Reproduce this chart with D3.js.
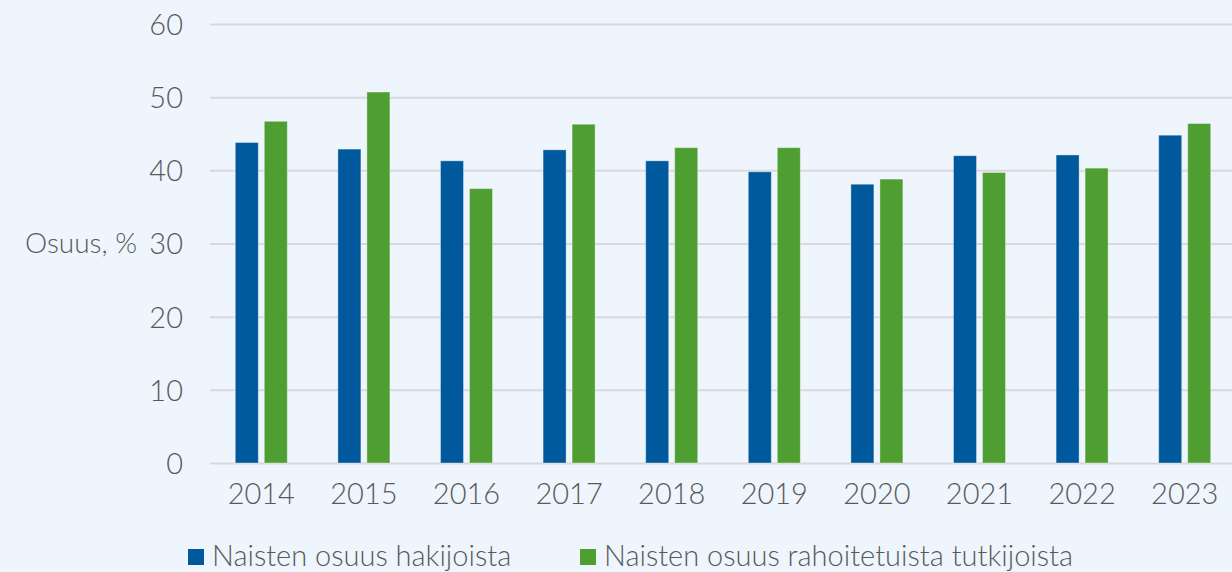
<!DOCTYPE html>
<html>
<head>
<meta charset="utf-8">
<script src="https://cdn.jsdelivr.net/npm/d3@7"></script>
<style>
  html, body { margin: 0; padding: 0; background: #EEF5FD; }
  svg { display: block; }
  text { font-family: Lato, "Open Sans", sans-serif; font-weight: 300; fill: #595959; }
</style>
</head>
<body>
<svg id="chart" width="1232" height="572"></svg>
<script>
const years = ["2014","2015","2016","2017","2018","2019","2020","2021","2022","2023"];
const seriesNames = ["Naisten osuus hakijoista", "Naisten osuus rahoitetuista tutkijoista"];
const applicants = [43.8, 42.9, 41.3, 42.8, 41.3, 39.8, 38.1, 42.0, 42.1, 44.8];
const funded = [46.7, 50.7, 37.5, 46.3, 43.1, 43.1, 38.8, 39.7, 40.3, 46.4];
const yTicks = [0, 10, 20, 30, 40, 50, 60];
const yLabel = "Osuus, %";
const colors = ["#00599C", "#4F9E31"];

const svg = d3.select("#chart");
const W = 1232, H = 572;
svg.append("rect").attr("width", W).attr("height", H).attr("fill", "#EEF5FD");

const x0 = d3.scaleBand().domain(years).range([210, 1236]).paddingInner(0).paddingOuter(0);
const y = d3.scaleLinear().domain([0, 60]).range([463, 24]);
const groupW = 52;
const x1 = d3.scaleBand().domain(seriesNames)
  .range([x0.bandwidth()/2 - groupW/2, x0.bandwidth()/2 + groupW/2])
  .paddingInner(0.207).paddingOuter(0);

// gridlines
const yAxis = d3.axisLeft(y).tickValues(yTicks).tickSize(-(W - 210)).tickPadding(27);
const gy = svg.append("g").attr("transform", "translate(210,0)").call(yAxis);
gy.select(".domain").remove();
gy.selectAll(".tick line").attr("stroke", "#D9D9D9").attr("stroke-width", 2);
gy.selectAll(".tick text").attr("font-size", 29).attr("dy", "0.36em")
  .style("fill", "#595959").style("font-family", "Lato, 'Open Sans', sans-serif").style("font-weight", 300);

// bars
const data = years.map((yr, i) => ({ year: yr, values: [applicants[i], funded[i]] }));
const groups = svg.append("g").selectAll("g").data(data).join("g")
  .attr("transform", d => `translate(${x0(d.year)},0)`);
groups.selectAll("rect").data(d => d.values.map((v, j) => ({ name: seriesNames[j], v, j })))
  .join("rect")
  .attr("x", d => x1(d.name))
  .attr("width", x1.bandwidth())
  .attr("y", d => y(d.v))
  .attr("height", d => y(0) - y(d.v))
  .attr("fill", d => colors[d.j])
  .attr("stroke", "rgba(255,255,255,0.35)")
  .attr("stroke-width", 1);

// x axis labels
const xAxis = d3.axisBottom(x0).tickSize(0).tickPadding(20);
const gx = svg.append("g").attr("transform", "translate(0,463)").call(xAxis);
gx.select(".domain").remove();
gx.selectAll(".tick text").attr("font-size", 29)
  .style("fill", "#595959").style("font-family", "Lato, 'Open Sans', sans-serif").style("font-weight", 300);

// y label
svg.append("text").attr("x", 25).attr("y", 253)
  .attr("font-size", 28).text(yLabel);

// legend
const legendX = [188, 580];
const lg = svg.append("g").selectAll("g").data(seriesNames).join("g")
  .attr("transform", (d, i) => `translate(${legendX[i]},0)`);
lg.append("rect").attr("x", 0).attr("y", 549).attr("width", 16).attr("height", 16)
  .attr("fill", (d, i) => colors[i]);
lg.append("text").attr("x", 24).attr("y", 566).attr("font-size", 29).text(d => d);
</script>
</body>
</html>
